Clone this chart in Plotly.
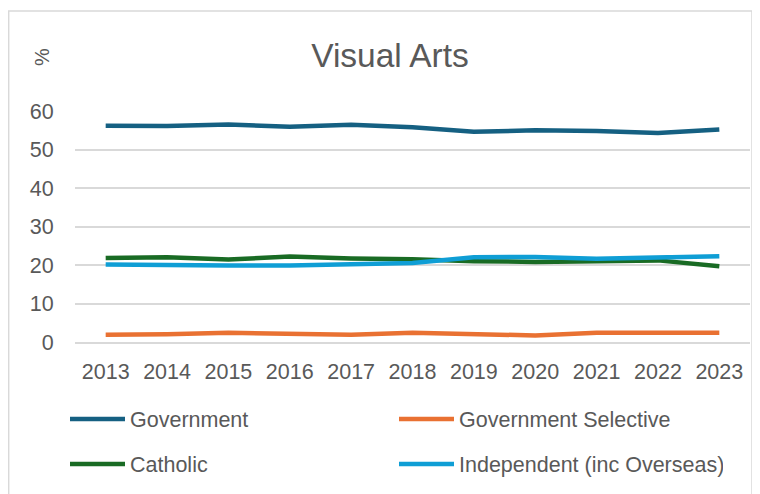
import plotly.graph_objects as go

years = ["2013", "2014", "2015", "2016", "2017", "2018", "2019", "2020", "2021", "2022", "2023"]
government = [56.2, 56.1, 56.5, 55.9, 56.4, 55.8, 54.6, 55.0, 54.8, 54.3, 55.2]
gov_selective = [1.9, 2.0, 2.4, 2.1, 1.9, 2.4, 2.1, 1.7, 2.4, 2.4, 2.4]
catholic = [21.8, 22.0, 21.4, 22.2, 21.7, 21.5, 21.0, 20.8, 21.0, 21.2, 19.7]
independent = [20.1, 19.9, 19.9, 19.9, 20.2, 20.5, 22.0, 22.1, 21.6, 22.0, 22.3]

series = [
    ("Government", government, "#156082", "legend"),
    ("Government Selective", gov_selective, "#E97132", "legend"),
    ("Catholic", catholic, "#196B24", "legend2"),
    ("Independent (inc Overseas)", independent, "#0F9ED5", "legend2"),
]

FONT = "Liberation Sans, Arial, sans-serif"
TXT = "#595959"

fig = go.Figure()
for name, vals, color, lg in series:
    fig.add_trace(go.Scatter(
        x=years, y=vals, name=name, mode="lines",
        line=dict(color=color, width=4.5),
        legend=lg,
    ))

W, H = 760, 494
OFF = 8  # page body margin offset
PT, PB, PL, PR = 111 - OFF, 342 - OFF, 75 - OFF, 750 - OFF
PW, PH = PR - PL, PB - PT

legend_common = dict(
    orientation="h", xref="container", yref="container",
    xanchor="left", yanchor="middle",
    font=dict(family=FONT, size=21.5, color=TXT),
    entrywidth=259, entrywidthmode="pixels", itemwidth=55,
    bgcolor="rgba(0,0,0,0)", traceorder="normal",
)

fig.update_layout(
    width=W, height=H,
    margin=dict(l=PL, r=W - PR, t=PT, b=H - PB, autoexpand=False),
    paper_bgcolor="white", plot_bgcolor="white",
    title=dict(text="Visual Arts", xref="container", yref="container",
               x=(390 - OFF) / W, y=1 - 47 / H, xanchor="center", yanchor="middle",
               font=dict(family=FONT, size=33.5, color=TXT)),
    legend=dict(x=(70 - 5 - OFF) / W, y=1 - (419 - OFF) / H, **legend_common),
    legend2=dict(x=(70 - 5 - OFF) / W, y=1 - (464 - OFF) / H, **legend_common),
    showlegend=True,
    xaxis=dict(
        type="category", range=[-0.5, len(years) - 0.5],
        showgrid=False, showline=True, linecolor="#D9D9D9", linewidth=1.5,
        ticks="outside", ticklen=9, tickcolor="rgba(0,0,0,0)",
        tickfont=dict(family=FONT, size=21.5, color=TXT),
        zeroline=False, automargin=False,
    ),
    yaxis=dict(
        range=[0, 60], dtick=10, tick0=0, showgrid=True, gridcolor="#D9D9D9", gridwidth=1.5,
        zeroline=False, showline=False,
        ticks="outside", ticklen=16, tickcolor="rgba(0,0,0,0)",
        tickfont=dict(family=FONT, size=21.5, color=TXT), automargin=False,
    ),
    annotations=[dict(text="%", xref="paper", yref="paper", x=(42 - OFF - PL) / PW,
                      y=(PB - (57 - OFF)) / PH, showarrow=False, textangle=-90,
                      font=dict(family=FONT, size=20, color=TXT),
                      xanchor="center", yanchor="middle")],
    shapes=[dict(type="rect", xref="paper", yref="paper",
                 x0=(8 - OFF - PL) / PW + 0.001, x1=(752 - OFF - PL) / PW,
                 y0=(PB - 494) / PH, y1=(PB - (11 - OFF)) / PH,
                 line=dict(color="#D9D9D9", width=1.5), fillcolor="rgba(0,0,0,0)", layer="below")],
)

fig.write_html("out.html")
